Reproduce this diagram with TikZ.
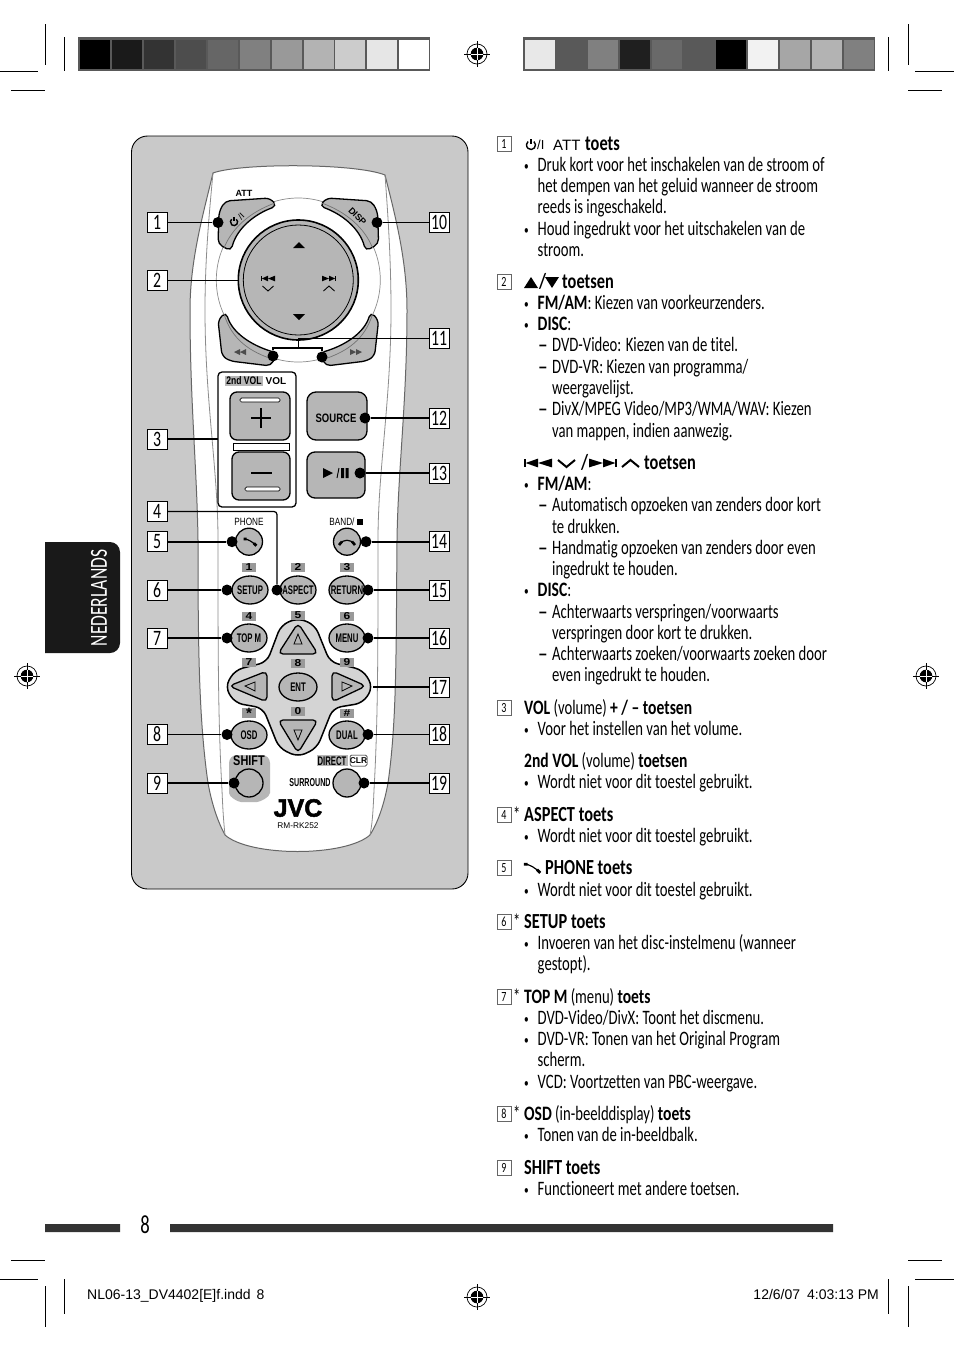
\documentclass[tikz,border=0pt]{standalone}
\usepackage{fontspec}
\usetikzlibrary{shapes.geometric}
\setmainfont{Carlito}[FakeStretch=0.717,BoldFeatures={FakeStretch=0.76},Ligatures=NoCommon]
\newfontfamily\arl{Liberation Sans}
\newfontfamily\arlc{Liberation Sans}[FakeStretch=0.78]
\newfontfamily\arlcc{Liberation Sans}[FakeStretch=0.62]
\newfontfamily\arlw{Liberation Sans}[FakeStretch=1.2]
\newfontfamily\jvcf{Liberation Sans}[BoldFeatures={FakeBold=2}]
\newcounter{nn}
\definecolor{btn}{HTML}{B6B6B6}
\definecolor{panelc}{HTML}{C9C9C9}
\definecolor{frm}{HTML}{595959}
\tikzset{
 txt/.style={anchor=base west,inner sep=0pt,font=\fontsize{20.5}{24}\selectfont},
 hdr/.style={txt,font=\fontsize{21.5}{24}\selectfont\bfseries},
 nbox/.style={draw=black!60,line width=.6pt,fill=white,minimum width=14pt,minimum height=15pt,inner sep=0pt,font=\fontsize{14}{16}\selectfont},
 calloutbox/.style={draw=black,line width=.8pt,fill=white,minimum width=20pt,minimum height=20pt,inner sep=0pt,font=\fontsize{22}{24}\selectfont},
 conn/.style={line width=1.6pt,draw=black},
 pt/.style={circle,fill=black,minimum size=11pt,inner sep=0pt},
 key/.style={draw=black,line width=1.3pt,fill=btn},
 rmk/.style={inner sep=0pt,font=\fontsize{12.5}{13}\selectfont\arlcc\bfseries},
 rmr/.style={inner sep=0pt,font=\fontsize{10.5}{12}\selectfont\arlc},
 numk/.style={fill=black!40,minimum width=14pt,minimum height=9pt,inner sep=0pt,font=\fontsize{10}{9}\selectfont\arlw\bfseries},
 crop/.style={line width=.9pt,draw=black},
}
\newcommand\tl[3]{\stepcounter{nn}\node[txt] (t\arabic{nn}) at (#1,#2+6.6) {#3};}
\newcommand\hl[3]{\stepcounter{nn}\node[hdr] (t\arabic{nn}) at (#1,#2+6.6) {#3};}
\newcommand\bl[2]{\tl{524}{#1}{\fontsize{13}{13}\selectfont\raisebox{1.5pt}{•}}\tl{537.5}{#1}{#2}}
\newcommand\dl[2]{\tl{538}{#1}{\fontsize{27}{27}\selectfont\raisebox{-2.2pt}{–}}\tl{552}{#1}{#2}}
\newcommand\cl[2]{\tl{552}{#1}{#2}}
\newcommand\nb[2]{\node[nbox] (nb#2) at (504,#1) {#2};}
\newcommand\reg[3]{\begin{scope}[shift={(#1,#2)}]
 \draw[line width=.7pt] (0,0) circle[radius=10];
 \fill (0,0) circle[radius=6.3];
 \draw[line width=.7pt] (-13,0)--(13,0) (0,-13)--(0,13);
 \draw[white,line width=.7pt] (-6,0)--(6,0) (0,-6)--(0,6);
\end{scope}}
\newcommand\pwr[3]{\begin{scope}[shift={(#1,#2)},scale=#3]
 \draw[line width=1.4pt] (310:4.5) arc (310:590:4.5);
 \draw[line width=1.4pt] (0,-6)--(0,-1);
\end{scope}}
\newcommand\prevskip[4]{\begin{scope}[shift={(#1,#2)},xscale=#3,yscale=#4]
 \fill (-7,-4) rectangle (-6.2,4);
 \fill (-6.2,0)--(0,-4)--(0,4)--cycle;
 \fill (0,0)--(7,-4)--(7,4)--cycle;
\end{scope}}
\newcommand\nextskip[4]{\begin{scope}[shift={(#1,#2)},xscale=-#3,yscale=#4]
 \fill (-7,-4) rectangle (-6.2,4);
 \fill (-6.2,0)--(0,-4)--(0,4)--cycle;
 \fill (0,0)--(7,-4)--(7,4)--cycle;
\end{scope}}
\newcommand\handset[3]{\begin{scope}[shift={(#1,#2)},scale=#3]
 \draw[line width=1.2pt] (-7,-3.5) .. controls (-2,-3.5) and (3,0) .. (7,4);
 \draw[line width=2.8pt] (-7.5,-3.5)--(-4,-3.5) (4.5,1.5)--(7.5,4.5);
\end{scope}}
\newcommand\lft[3]{\node[calloutbox] (l#1) at (157,#2) {#1};\node[pt] (d#1) at (#3,#2) {};\draw[conn] (l#1.east) -- (d#1);}
\newcommand\rgt[3]{\node[calloutbox] (l#1) at (439,#2) {#1};\node[pt] (d#1) at (#3,#2) {};\draw[conn] (l#1.west) -- (d#1);}
\begin{document}
\begin{tikzpicture}[x=1pt,y=-1pt]
\useasboundingbox (0,0) rectangle (954,1352);
\fill[white] (0,0) rectangle (954,1352);
% colour bars
\fill[frm] (78,37) rectangle (430,71);
\fill[frm] (523,37) rectangle (875,71);
\foreach \c [count=\i from 0] in {000000,1A1A1A,333333,4D4D4D,666666,808080,999999,B3B3B3,CCCCCC,E6E6E6,FFFFFF}{
 \definecolor{tc}{HTML}{\c}\fill[tc] (80.2+31.9*\i,40) rectangle +(30,29);}
\foreach \c [count=\i from 0] in {E8E8E8,595959,808080,1F1F1F,696969,595959,000000,F2F2F2,A6A6A6,B3B3B3,808080}{
 \definecolor{tc}{HTML}{\c}\fill[tc] (524.5+31.9*\i,40) rectangle +(30,29);}
% crop marks
\draw[crop] (45,24)--(45,65) (64.5,37)--(64.5,71) (0,71)--(38,71) (11,90)--(45,90);
\draw[crop] (908,24)--(908,65) (888,37)--(888,71) (915,71)--(954,71) (908,90)--(942,90);
\draw[crop] (45,1286)--(45,1327) (64.5,1279)--(64.5,1314) (0,1279)--(38,1279) (11,1260)--(45,1260);
\draw[crop] (908,1286)--(908,1327) (888,1279)--(888,1314) (915,1279)--(954,1279) (908,1260)--(942,1260);
\reg{477}{54}{}\reg{477}{1297}{}\reg{27}{676}{}\reg{926}{676}{}
% side tab
\fill[black!90] (45,542) -- (110,542) arc (-90:0:10) -- (120,643) arc (0:90:10) -- (45,653) -- cycle;
\node[rotate=90,text=white,inner sep=0pt,font=\fontsize{24.5}{24}\selectfont] (tab) at (99,598) {NEDERLANDS};
% bottom bar
\fill[black!80] (45,1224) rectangle (120,1232) (170,1224) rectangle (833,1232);
\node[inner sep=0pt,font=\fontsize{26}{26}\selectfont] (pg) at (145,1225) {8};
\node[anchor=base west,inner sep=0pt,font=\fontsize{14}{16}\selectfont\arl] (ft1) at (87,1299) {NL06-13\_DV4402[E]f.indd\hspace{6pt}8};
\node[anchor=base east,inner sep=0pt,font=\fontsize{14}{16}\selectfont\arl] (ft2) at (879,1299) {12/6/07\hspace{7pt}4:03:13 PM};
% panel
\draw[fill=panelc,line width=.9pt,rounded corners=16pt] (131.5,136) rectangle (468,889);
% remote body
\draw[fill=white,draw=black!60,line width=1pt] (213,173) .. controls (240,163) and (355,163) .. (385,175)
 .. controls (395,215) and (407,260) .. (407,310) .. controls (407,400) and (398,470) .. (397,540)
 .. controls (396,650) and (397,720) .. (388,783) .. controls (384,805) and (378,822) .. (370,835)
 .. controls (345,857) and (250,857) .. (225,835) .. controls (218,822) and (212,805) .. (208,783)
 .. controls (199,720) and (198,650) .. (198,540) .. controls (197,470) and (190,400) .. (190,310)
 .. controls (190,260) and (203,215) .. (213,173) -- cycle;
\draw[draw=black!45,line width=.8pt] (213,173) .. controls (209,215) and (205,260) .. (205,310) .. controls (205,400) and (218,470) .. (218,540)
 .. controls (218,650) and (218,720) .. (222,790) .. controls (223,815) and (224,825) .. (225,835);
\draw[draw=black!45,line width=.8pt] (385,175) .. controls (388,215) and (391,260) .. (391,310) .. controls (391,400) and (378,470) .. (378,540)
 .. controls (378,650) and (378,720) .. (374,790) .. controls (373,815) and (372,825) .. (370,835);
% ring
\draw[draw=black!45,line width=.7pt] (298.3,280) circle[radius=82];
% top/bottom keys
\newcommand\attkey{\draw[key,rounded corners=5pt] (218,244) -- (219,212) -- (225,201) -- (270,198) -- (277,206) .. controls (255,214) and (237,228) .. (231,251) -- cycle;
 \draw[draw=black!55,line width=.7pt] (275,203) .. controls (250,212) and (232,228) .. (224,248);}
\newcommand\rewkey{\draw[key,rounded corners=5pt] (218,320) -- (226,312) .. controls (232,332) and (250,345) .. (277,353) -- (271,366) -- (230,361) -- (222,356) -- cycle;
 \draw[draw=black!55,line width=.7pt] (224,314) .. controls (232,340) and (250,352) .. (275,360);}
\attkey\rewkey
\begin{scope}[shift={(596.6,0)},xscale=-1]\attkey\rewkey\end{scope}
% D-pad
\draw[key,line width=1.6pt] (298.3,280) circle[radius=60];
\draw[draw=black,line width=.8pt] (298.3,280) circle[radius=55];
\fill (299,242)--(305,248)--(293,248)--cycle;
\fill (299,320)--(305,314)--(293,314)--cycle;
\prevskip{268}{278.5}{1}{.7}\nextskip{329}{278.5}{1}{.7}
\draw[line width=.9pt] (262.5,286)--(268,291)--(273.5,286);
\draw[line width=.9pt] (323.5,291)--(329,286)--(334.5,291);
\node[rotate=45,rmk,font=\fontsize{9}{9}\selectfont\arl] (lp) at (241,216) {/I};
\pwr{234}{222}{.8}
\node[rotate=-45,rmk,font=\fontsize{9}{10}\selectfont\arl\bfseries] (ldisp) at (357.5,216.5) {DISP};
\node[rmk,font=\fontsize{9}{10}\selectfont\arl\bfseries] (latt) at (244,193) {ATT};
\begin{scope}[black!70]
\fill (234,352)--(240,349)--(240,355)--cycle (240,352)--(246,349)--(246,355)--cycle;
\fill (356,349)--(362,352)--(356,355)--cycle (350,349)--(356,352)--(350,355)--cycle;
\end{scope}
% volume block
\draw[fill=white,line width=1.3pt,rounded corners=4pt] (218,372) rectangle (296,507);
\fill[btn] (225,376) rectangle (263,386);
\node[rmk,font=\fontsize{11}{12}\selectfont\arlc\bfseries] (l2nd) at (244,381) {2nd VOL};
\node[rmk,font=\fontsize{10}{12}\selectfont\arl\bfseries] (lvol) at (276,381) {VOL};
\draw[key,rounded corners=7pt] (230,392) rectangle (290,440);
\draw[key,rounded corners=7pt] (232,452) rectangle (290,500);
\draw[line width=.7pt,fill=white] (233,443) rectangle (289,450);
\draw[line width=.7pt,fill=white,rounded corners=1.5pt] (240,398) rectangle (280,402);
\draw[line width=.7pt,fill=white,rounded corners=1.5pt] (245,487) rectangle (280,491);
\draw[line width=1.4pt] (251,418)--(271,418) (261,408)--(261,428);
\draw[line width=1.4pt] (251,473)--(272,473);
\draw[key,rounded corners=9pt] (307,392) rectangle (367,440);
\node[rmk,font=\fontsize{12.2}{13}\selectfont\arlc\bfseries] (lsrc) at (336,418) {SOURCE};
\draw[key,rounded corners=8pt] (307,452) rectangle (365,498);
\fill (323,468)--(333,473)--(323,478)--cycle;
\draw[line width=.9pt] (337,478)--(339,468);
\fill (341,468) rectangle (344,478) (345.5,468) rectangle (348.5,478);
% small labels
\node[rmr] (lph) at (249,522) {PHONE};
\node[rmr] (lbd) at (342,522) {BAND/};
\fill (357,519) rectangle (363,525);
% round keys
\node[key,circle,minimum size=27pt,inner sep=0pt] (kph) at (249,541.7) {};
\handset{250}{542}{.85}
\node[key,circle,minimum size=27pt,inner sep=0pt] (kbd) at (347,541.7) {};
\draw[line width=1.2pt] (340,544) .. controls (343,539) and (351,539) .. (354,544);
\draw[line width=2.6pt] (339,545)--(342,541.5) (355,545)--(352,541.5);
\newcommand\ekey[4]{\node[key,ellipse,minimum width=36pt,minimum height=28pt,inner sep=0pt] (#1) at (#2,#3) {};\node[rmk] (#1t) at (#2,#3) {#4};}
\ekey{ksetup}{250}{590}{SETUP}
\ekey{kasp}{298}{590}{ASPECT}
\ekey{kret}{347}{590}{RETURN}
\ekey{ktop}{249}{638}{TOP M}
\ekey{kmenu}{347}{638}{MENU}
% cross
\draw[fill=black!17,line width=1.5pt,rounded corners=8pt] (298,618)--(315,625)--(330,662)--(363,670)--(373,687)--(363,703)--(333,708)--(317,748)--(298,757)--(279,748)--(263,708)--(235,703)--(225,687)--(235,670)--(267,662)--(281,625)--cycle;
\draw[key,rounded corners=5pt] (298,623)--(318,654)--(278,654)--cycle;
\draw[key,rounded corners=5pt] (229,686)--(267,671)--(267,702)--cycle;
\draw[key,rounded corners=5pt] (298,753)--(278,720)--(318,720)--cycle;
\draw[key,rounded corners=5pt] (366,686)--(332,671)--(332,702)--cycle;
\draw[line width=.8pt] (298,634)--(302,644)--(294,644)--cycle (245,686)--(255,682)--(255,691)--cycle (298,740)--(294,730)--(302,730)--cycle (352,686)--(342,682)--(342,691)--cycle;
\node[key,ellipse,minimum width=38pt,minimum height=28pt,inner sep=0pt] (kent) at (298,687) {};
\node[rmk] (kentt) at (298,687) {ENT};
\foreach \n/\x/\y/\t in {a/249/567/1,b/298/567/2,c/347/567/3,d/249/616/4,e/298/615/5,f/347/616/6,g/249/662/7,h/298/663/8,i/347/662/9,j/298/711/0}{
 \node[numk] (n\n) at (\x,\y) {\t};}
\node[numk,font=\fontsize{15}{9}\selectfont\arl\bfseries] (nk) at (249,713) {\raisebox{-4.5pt}{*}};
\node[numk] (nl) at (347,713) {\#};
\ekey{kosd}{249}{735}{OSD}
\ekey{kdual}{347}{735}{DUAL}
% shift
\fill[btn,rounded corners=8pt] (229,755) -- (270,755) -- (270,785) .. controls (270,797) and (260,802) .. (249,802) .. controls (238,802) and (229,797) .. (229,785) -- cycle;
\node[rmk,font=\fontsize{14}{14}\selectfont\arlc\bfseries] (lsh) at (249,761) {SHIFT};
\node[key,circle,minimum size=28pt,inner sep=0pt] (kshift) at (249,783) {};
\fill[btn] (317,755) rectangle (348,766);
\node[rmk] (ldir) at (332,761) {DIRECT};
\draw[line width=.5pt,rounded corners=1.5pt] (350,755) rectangle (367,766);
\node[rmk,font=\fontsize{8.5}{10}\selectfont\arl\bfseries] (lclr) at (358.5,760.5) {CLR};
\node[rmk,font=\fontsize{11.5}{12}\selectfont\arlcc\bfseries] (lsur) at (310,783) {SURROUND};
\node[key,circle,minimum size=28pt,inner sep=0pt] (ksur) at (347,783) {};
\node[rmk,font=\fontsize{25}{26}\selectfont\jvcf\bfseries] (ljvc) at (298,808) {JVC};
\node[rmk,font=\fontsize{8.3}{9}\selectfont\arl] (lrm) at (298,826) {RM-RK252};
% callouts
\lft{1}{222.5}{218}\lft{5}{541.7}{232}\lft{6}{590}{227}\lft{7}{638}{227}\lft{8}{734.5}{227}\lft{9}{783}{234}
\rgt{10}{222.5}{377}\rgt{12}{418}{365}\rgt{13}{473}{360}\rgt{14}{541.7}{366}\rgt{15}{590}{368}\rgt{16}{638}{368}\rgt{18}{734.5}{368}\rgt{19}{783}{364}
\node[calloutbox] (l2) at (157,280.5) {2};\coordinate (c2) at (238,280.5);\draw[conn] (l2.east) -- (c2);
\node[calloutbox] (l3) at (157,439) {3};\coordinate (c3) at (218,439);\draw[conn] (l3.east) -- (c3);
\node[calloutbox] (l4) at (157,511.5) {4};\node[pt] (d4) at (277,590) {};\draw[conn,line width=1.2pt,rounded corners=3pt] (l4.east) -| (d4);
\node[calloutbox] (l17) at (439,687) {17};\coordinate (c17) at (373,687);\draw[conn] (l17.west) -- (c17);
\node[calloutbox] (l11) at (439,338.5) {11};\node[pt] (d11a) at (273,356) {};\node[pt] (d11b) at (322,357) {};
\coordinate (c11a) at (298.3,338.5);\coordinate (c11b) at (298.3,348);\draw[conn] (l11.west) -- (c11a) -- (c11b);
\draw[conn] (d11a) |- (c11b) -| (d11b);
% text column
\nb{144}{1}\pwr{531}{145}{1}\node[anchor=base west,inner sep=0pt,font=\fontsize{13}{14}\selectfont\arl] (hp) at (537,149.5) {/I};\node[anchor=base west,inner sep=0pt,font=\fontsize{15}{14}\selectfont\arl] (hatt) at (553,150) {ATT};\hl{585}{144}{toets}
\bl{165}{Druk kort voor het inschakelen van de stroom of}
\tl{537.5}{186}{het dempen van het geluid wanneer de stroom}
\tl{537.5}{207}{reeds is ingeschakeld.}
\bl{229}{Houd ingedrukt voor het uitschakelen van de}
\tl{537.5}{250}{stroom.}
\nb{282}{2}\fill (531,277)--(538,288)--(524,288)--cycle (545,277)--(559,277)--(552,288)--cycle;\hl{539}{282}{/}\hl{562}{282}{toetsen}
\bl{303}{\textbf{FM/AM}: Kiezen van voorkeurzenders.}
\bl{324}{\textbf{DISC}:}
\dl{345}{DVD-Video: Kiezen van de titel.}
\dl{367}{DVD-VR: Kiezen van programma/}
\cl{388}{weergavelijst.}
\dl{409}{DivX/MPEG Video/MP3/WMA/WAV: Kiezen}
\cl{431}{van mappen, indien aanwezig.}
\prevskip{538}{463}{2}{1.1}\draw[line width=2pt] (558,460)--(566.5,467)--(575,460);
\hl{581}{463}{/}\nextskip{603}{463}{2}{1.1}\draw[line width=2pt] (622,467)--(630.5,460)--(639,467);
\hl{644}{463}{toetsen}
\bl{484}{\textbf{FM/AM}:}
\dl{505}{Automatisch opzoeken van zenders door kort}
\cl{527}{te drukken.}
\dl{548}{Handmatig opzoeken van zenders door even}
\cl{569}{ingedrukt te houden.}
\bl{590}{\textbf{DISC}:}
\dl{612}{Achterwaarts verspringen/voorwaarts}
\cl{633}{verspringen door kort te drukken.}
\dl{654}{Achterwaarts zoeken/voorwaarts zoeken door}
\cl{675}{even ingedrukt te houden.}
\nb{708}{3}\tl{524}{708}{\textbf{VOL} (volume) \textbf{+ / – toetsen}}
\bl{729}{Voor het instellen van het volume.}
\tl{524}{761}{\textbf{2nd VOL} (volume) \textbf{toetsen}}
\bl{782}{Wordt niet voor dit toestel gebruikt.}
\nb{815}{4}\tl{513}{815}{*}\hl{524}{815}{ASPECT toets}
\bl{836}{Wordt niet voor dit toestel gebruikt.}
\nb{868}{5}\handset{532}{868}{1.1}\hl{545}{868}{PHONE toets}
\bl{890}{Wordt niet voor dit toestel gebruikt.}
\nb{922}{6}\tl{513}{922}{*}\hl{524}{922}{SETUP toets}
\bl{943}{Invoeren van het disc-instelmenu (wanneer}
\tl{537.5}{964}{gestopt).}
\nb{997}{7}\tl{513}{997}{*}\tl{524}{997}{\textbf{TOP M} (menu) \textbf{toets}}
\bl{1018}{DVD-Video/DivX: Toont het discmenu.}
\bl{1039}{DVD-VR: Tonen van het Original Program}
\tl{537.5}{1060}{scherm.}
\bl{1082}{VCD: Voortzetten van PBC-weergave.}
\nb{1114}{8}\tl{513}{1114}{*}\tl{524}{1114}{\textbf{OSD} (in-beelddisplay) \textbf{toets}}
\bl{1135}{Tonen van de in-beeldbalk.}
\nb{1168}{9}\hl{524}{1168}{SHIFT toets}
\bl{1189}{Functioneert met andere toetsen.}
\end{tikzpicture}
\end{document}
